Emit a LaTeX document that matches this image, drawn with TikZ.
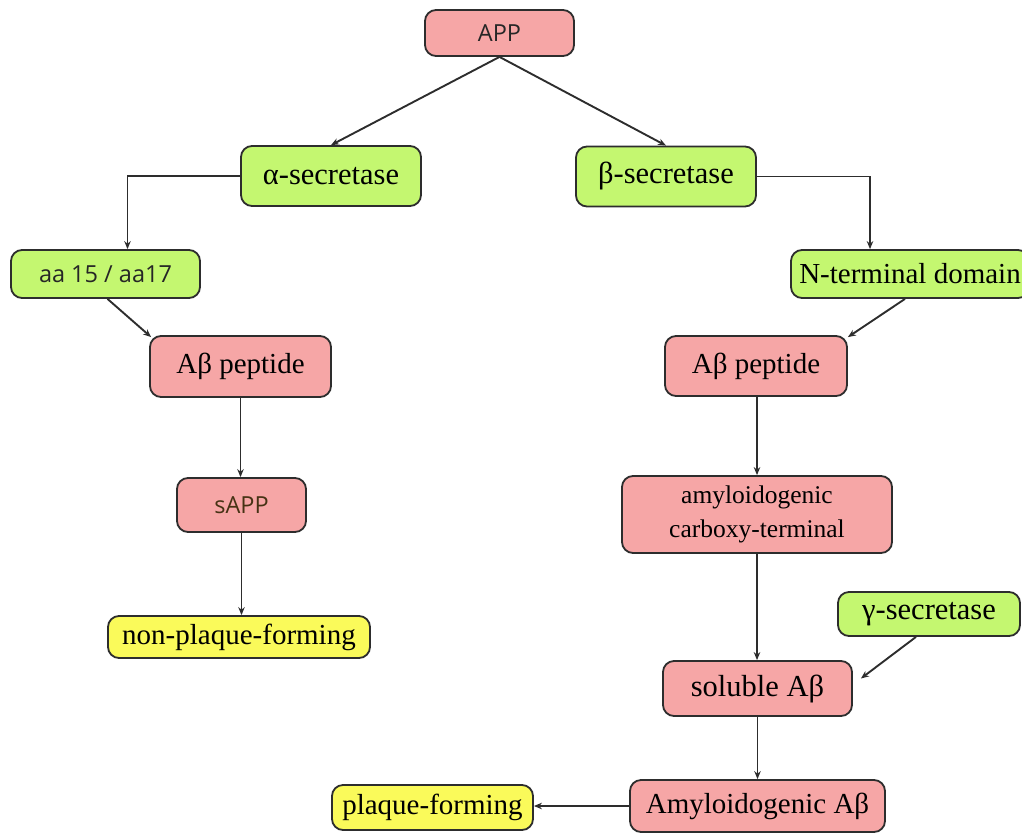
\documentclass[tikz,border=0pt]{standalone}
\usepackage{fontspec}
\setmainfont{Liberation Serif}
\newfontfamily\sansf{Open Sans}
\usetikzlibrary{arrows.meta,calc}
\definecolor{pinkf}{RGB}{246,166,166}
\definecolor{greenf}{RGB}{196,247,112}
\definecolor{yellowf}{RGB}{250,250,90}
\definecolor{edgec}{RGB}{45,45,45}
\tikzset{
  box/.style={draw=edgec, line width=1.8pt, rounded corners=11pt, inner sep=0pt, align=center,
    font=\fontsize{29}{34}\selectfont},
  pinkbox/.style={box, fill=pinkf},
  greenbox/.style={box, fill=greenf},
  yellowbox/.style={box, fill=yellowf},
  bigtext/.style={font=\fontsize{30.5}{34}\selectfont},
  sansbox/.style={font=\sansf\fontsize{23.5}{26}\selectfont, text=black!85},
  arr/.style={draw=edgec, line width=1.9pt, -{Stealth[length=8pt,width=6.5pt]}},
}
\begin{document}
\begin{tikzpicture}[x=1pt,y=-1pt]
\useasboundingbox (0,0) rectangle (1022,833);
\node[pinkbox,sansbox,minimum width=149pt,minimum height=46pt] (app) at (499.5,33) {APP};
\node[greenbox,bigtext,minimum width=180pt,minimum height=60pt] (alpha) at (331,176) {α-secretase};
\node[greenbox,bigtext,minimum width=180pt,minimum height=60pt] (beta) at (666,176.5) {β-secretase};
\node[greenbox,sansbox,minimum width=189pt,minimum height=48pt] (aa) at (105.5,274) {aa 15 / aa17};
\node[greenbox,minimum width=238pt,minimum height=48pt] (nterm) at (910,274) {N-terminal domain};
\node[pinkbox,minimum width=181pt,minimum height=61pt] (abl) at (240.5,366.5) {Aβ peptide};
\node[pinkbox,minimum width=182pt,minimum height=60pt] (abr) at (756,366) {Aβ peptide};
\node[pinkbox,sansbox,minimum width=129pt,minimum height=54pt,text={rgb,255:red,70;green,50;blue,20}] (sapp) at (241.5,505) {sAPP};
\node[pinkbox,minimum width=270pt,minimum height=77pt,font=\fontsize{25.5}{34}\selectfont] (amyc) at (757,514.5) {amyloidogenic\\carboxy-terminal};
\node[yellowbox,minimum width=262pt,minimum height=42pt] (nonpl) at (239,637) {non-plaque-forming};
\node[greenbox,bigtext,minimum width=182pt,minimum height=44pt] (gamma) at (929,614) {γ-secretase};
\node[pinkbox,bigtext,minimum width=189pt,minimum height=55pt] (sol) at (757.5,688.5) {soluble Aβ};
\node[pinkbox,minimum width=255pt,minimum height=52pt] (amy) at (757.5,806) {Amyloidogenic Aβ};
\node[yellowbox,minimum width=201pt,minimum height=45pt] (plaque) at (432.5,807.5) {plaque-forming};

\draw[arr] (app.south) -- (alpha.north);
\draw[arr] (app.south) -- (beta.north);
\draw[arr] (alpha.west) -| ([xshift=22pt]aa.north);
\draw[arr] (beta.east) -| ([xshift=-40pt]nterm.north);
\draw[arr] ([xshift=2pt]aa.south) -- ([xshift=2pt,yshift=-2pt]abl.north west);
\draw[arr] ([xshift=-5pt]nterm.south) -- ([yshift=-2pt]abr.north east);
\draw[arr] (abl.south) -- (abl.south |- sapp.north);
\draw[arr] (sapp.south) -- (sapp.south |- nonpl.north);
\draw[arr] ([xshift=1pt]abr.south) -- ([xshift=1pt]abr.south |- amyc.north);
\draw[arr] (amyc.south) -- (amyc.south |- sol.north);
\draw[arr] ([xshift=-13pt]gamma.south) -- ($(sol.east)+(8,-10)$);
\draw[arr] (sol.south) -- (sol.south |- amy.north);
\draw[arr] (amy.west) -- (amy.west -| plaque.east);
\end{tikzpicture}
\end{document}
